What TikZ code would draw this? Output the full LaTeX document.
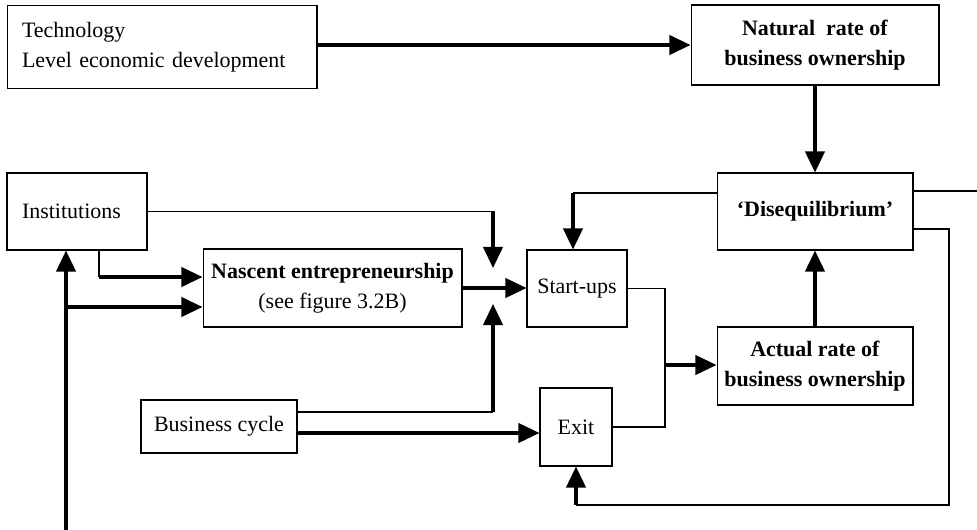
\documentclass[tikz,border=0pt]{standalone}
\usepackage{fontspec}
\setmainfont{Liberation Serif}
\usepackage{tikz}
\usetikzlibrary{arrows.meta}
\tikzset{
  x = 0.02cm, y = -0.02cm,
  > = {Triangle[length = 12pt, width = 11pt]},
  box/.style = {draw, line width = 0.6pt, inner sep = 2pt, align = center,
    font = \fontsize{12.5}{17}\selectfont},
  lbox/.style = {box, align = left, inner xsep = 0.3cm},
  thinline/.style = {line width = 0.6pt},
  boldline/.style = {line width = 1.8pt}
}

\begin{document}
\begin{tikzpicture}
  \useasboundingbox (0,0) rectangle (977,530);
  % nodes
  \node (tech) [lbox, text width = 5.6cm, minimum height = 1.66cm] at (162,47)
    {Technology\\Level economic development};
  \node (nat) [box, minimum width = 4.96cm, minimum height = 1.6cm] at (815,45)
    {\textbf{Natural\ \ rate of}\\\textbf{business ownership}};
  \node (diseq) [box, minimum width = 3.92cm, minimum height = 1.54cm] at (815,211.5)
    {\textbf{‘Disequilibrium’}};
  \node (inst) [lbox, text width = 2.2cm, minimum height = 1.54cm] at (77,211.5)
    {Institutions};
  \node (nasc) [box, minimum width = 5.18cm, minimum height = 1.56cm] at (332.5,288)
    {\textbf{Nascent entrepreneurship}\\(see figure 3.2B)};
  \node (start) [box, minimum width = 2cm, minimum height = 1.54cm] at (577,288.5)
    {Start-ups};
  \node (actual) [box, minimum width = 3.92cm, minimum height = 1.56cm] at (815,366)
    {\textbf{Actual rate of}\\\textbf{business ownership}};
  \node (bcyc) [box, minimum width = 3.12cm, minimum height = 1.06cm] at (219,426.5)
    {Business cycle};
  \node (exit) [box, minimum width = 1.44cm, minimum height = 1.56cm] at (576,427)
    {Exit};
  % bend points
  \coordinate (dl) at (573,193);
  \coordinate (jtop) at (493,268);
  \coordinate (jbot) at (493,304);
  \coordinate (ij) at (493,211.5);
  \coordinate (bc) at (493,412);
  \coordinate (ex) at (493,433);
  \coordinate (mg) at (665,365);
  \coordinate (out) at (977,191);
  \coordinate (r1) at (949,229);
  \coordinate (rb) at (949,505);
  \coordinate (i1) at (99,277);
  \coordinate (i2) at (66,307);
  \coordinate (base) at (66,530);
  % edges
  \draw [boldline, ->] (tech.east |- nat) -- (nat.west);
  \draw [boldline, ->] (nat) -- (diseq);
  \draw [boldline, ->] (actual) -- (diseq);
  \draw [thinline] (diseq.west |- dl) -- (dl);
  \draw [boldline, ->] (dl) -- (dl |- start.north);
  \draw [thinline] (inst.east) -- (ij);
  \draw [boldline, ->] (ij) -- (jtop);
  \draw [boldline, ->] (nasc.east) -- (nasc.east -| start.west);
  \draw [thinline] (bcyc.east |- bc) -- (bc);
  \draw [boldline, ->] (bc) -- (jbot);
  \draw [boldline, ->] (bcyc.east |- ex) -- (exit.west |- ex);
  \draw [thinline] (start.east) -| (mg) |- (exit.east);
  \draw [boldline, ->] (mg) -- (mg -| actual.west);
  \draw [thinline] (diseq.east |- out) -- (out);
  \draw [thinline] (diseq.east |- r1) -- (r1) -- (rb) -- (exit.south |- rb);
  \draw [boldline, ->] (exit.south |- rb) -- (exit.south);
  \draw [thinline] (inst.south -| i1) -- (i1);
  \draw [boldline, ->] (i1) -- (i1 -| nasc.west);
  \draw [boldline, ->] (base) -- (base |- inst.south);
  \draw [boldline, ->] (i2) -- (i2 -| nasc.west);
\end{tikzpicture}
\end{document}
